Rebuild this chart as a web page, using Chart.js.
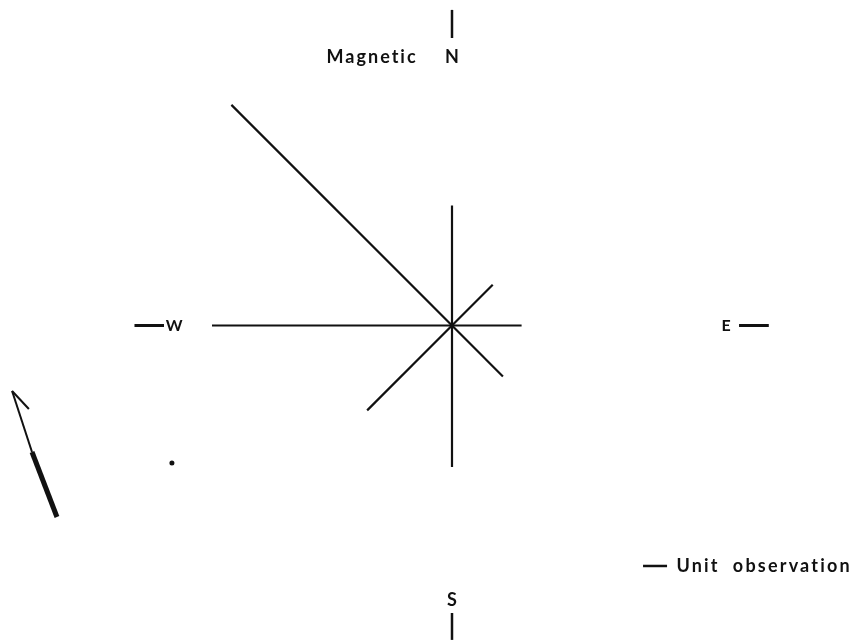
<!DOCTYPE html>
<html>
<head>
<meta charset="utf-8">
<script src="https://cdn.jsdelivr.net/npm/chart.js@4"></script>
<style>
  html, body { margin: 0; padding: 0; background: #fff; }
  canvas { display: block; }
</style>
</head>
<body>
<canvas id="rose" width="863" height="642"></canvas>
<script>
// Directions of the rose, clockwise from magnetic north
const directions = ['N', 'NE', 'E', 'SE', 'S', 'SW', 'W', 'NW'];
const bearings = [0, 45, 90, 135, 180, 225, 270, 315];
// Number of observations in each direction (in unit lengths)
const observations = [5, 2.4, 2.9, 3, 5.9, 5, 10, 13];

// Drawing geometry: one unit observation = 24 px, rose centred at (452, 325.5)
const UNIT_PX = 24;
const CX = 452, CY = 325.5, W = 863, H = 642;
const INK = '#111';

function rayPoint(value, bearing) {
  const a = bearing * Math.PI / 180;
  return { x: value * Math.sin(a), y: value * Math.cos(a) };
}

const datasets = directions.map((d, i) => ({
  label: d,
  type: 'line',
  data: [{ x: 0, y: 0 }, rayPoint(observations[i], bearings[i])],
  borderColor: INK,
  borderWidth: 2.2,
  pointRadius: 0,
  fill: false,
  tension: 0
}));

// Compass marks, legend, north arrow and labels, placed in rose units
const decor = {
  id: 'decor',
  afterDatasetsDraw(chart) {
    const { ctx, scales: { x, y } } = chart;
    const px = v => x.getPixelForValue(v);
    const py = v => y.getPixelForValue(v);
    const seg = (x1, y1, x2, y2, w) => {
      ctx.beginPath();
      ctx.moveTo(px(x1), py(y1));
      ctx.lineTo(px(x2), py(y2));
      ctx.lineWidth = w;
      ctx.strokeStyle = INK;
      ctx.lineCap = 'butt';
      ctx.stroke();
    };
    const text = (s, xv, yv, size, align, spacing) => {
      ctx.font = `bold ${size}px Lato, "DejaVu Sans", sans-serif`;
      ctx.letterSpacing = spacing + 'px';
      ctx.fillStyle = INK;
      ctx.textAlign = align;
      ctx.textBaseline = 'middle';
      ctx.fillText(s, px(xv), py(yv));
    };
    ctx.save();
    // compass ticks
    seg(0, 11.98, 0, 13.15, 2.5);      // N
    seg(0, -11.98, 0, -13.1, 2.5);     // S
    seg(-13.23, 0, -12.0, 0, 3);       // W
    seg(11.96, 0, 13.2, 0, 3);         // E
    // compass letters
    text('Magnetic', -3.33, 11.19, 18, 'center', 2);
    text('N', 0, 11.19, 18, 'center', 0);
    text('S', 0, -11.44, 18, 'center', 0);
    text('W', -11.58, 0, 16, 'center', 0);
    text('E', 11.42, 0, 16, 'center', 0);
    // legend: one unit observation
    seg(7.96, -10.02, 8.96, -10.02, 2.5);
    text('Unit  observation', 9.35, -10.02, 18, 'left', 2.2);
    // north arrow
    seg(-16.46, -7.98, -17.5, -5.27, 5);
    seg(-17.5, -5.27, -18.33, -2.73, 2);
    seg(-18.33, -2.73, -17.63, -3.48, 2);
    // dot
    ctx.beginPath();
    ctx.arc(px(-11.67), py(-5.73), 2.5, 0, Math.PI * 2);
    ctx.fillStyle = INK;
    ctx.fill();
    ctx.restore();
  }
};

new Chart(document.getElementById('rose'), {
  type: 'scatter',
  data: { datasets },
  options: {
    responsive: false,
    animation: false,
    layout: { padding: 0 },
    plugins: { legend: { display: false }, tooltip: { enabled: false } },
    scales: {
      x: { type: 'linear', display: false, min: -CX / UNIT_PX, max: (W - CX) / UNIT_PX },
      y: { type: 'linear', display: false, min: -(H - CY) / UNIT_PX, max: CY / UNIT_PX }
    }
  },
  plugins: [decor]
});
</script>
</body>
</html>
